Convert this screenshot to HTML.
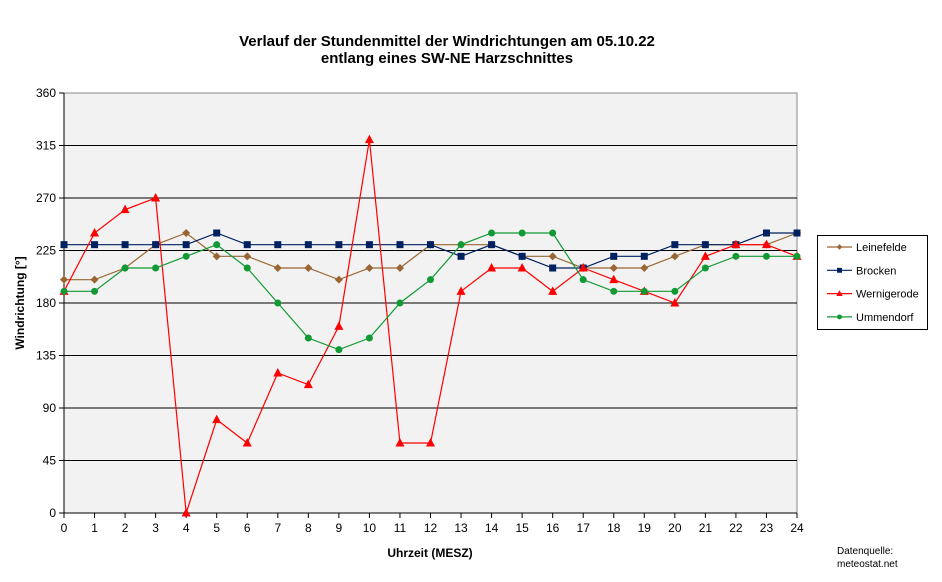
<!DOCTYPE html>
<html><head><meta charset="utf-8"><style>
html,body{margin:0;padding:0;background:#fff;}
svg{display:block;font-family:"Liberation Sans",Arial,sans-serif;}
</style></head><body>
<svg id="c" width="942" height="582" xmlns="http://www.w3.org/2000/svg">
<rect x="0" y="0" width="942" height="582" fill="#fff"/>
<text x="447" y="46" text-anchor="middle" font-size="15" font-weight="bold">Verlauf der Stundenmittel der Windrichtungen am 05.10.22</text>
<text x="447" y="63" text-anchor="middle" font-size="15" font-weight="bold">entlang eines SW-NE Harzschnittes</text>
<rect x="64" y="93" width="733" height="420" fill="#f2f2f2" stroke="#888" stroke-width="1"/>
<g id="grid"></g>
<g id="series"></g>
<text x="430" y="557" text-anchor="middle" font-size="12" font-weight="bold">Uhrzeit (MESZ)</text>
<text x="24" y="303" text-anchor="middle" font-size="12" font-weight="bold" transform="rotate(-90 24 303)">Windrichtung [°]</text>
<text x="837" y="554" font-size="10">Datenquelle:</text>
<text x="837" y="567" font-size="10">meteostat.net</text>
<rect x="817.5" y="235.5" width="110" height="94" fill="#fff" stroke="#000"/>
<g id="legend"></g>
</svg>
<script>
const L=64,R=797,T=93,B=513;
const X=h=>L+(R-L)*h/24, Y=v=>B-(B-T)*v/360;
let g='';
for(let v=0;v<=360;v+=45){const y=Y(v);
 if(v>0&&v<360)g+=`<line x1="${L}" y1="${y}" x2="${R}" y2="${y}" stroke="#000" stroke-width="1"/>`;
 g+=`<line x1="${L-5}" y1="${y}" x2="${L}" y2="${y}" stroke="#000"/>`;
 g+=`<text x="${L-8}" y="${y+4}" text-anchor="end" font-size="12">${v}</text>`;}
for(let h=0;h<=24;h++){const x=X(h);
 g+=`<line x1="${x}" y1="${B}" x2="${x}" y2="${B+5}" stroke="#000"/>`;
 g+=`<text x="${x}" y="${B+19}" text-anchor="middle" font-size="12">${h}</text>`;}
g+=`<line x1="${L}" y1="${T}" x2="${L}" y2="${B}" stroke="#000"/><line x1="${L}" y1="${B}" x2="${R}" y2="${B}" stroke="#000"/>`;
document.getElementById('grid').innerHTML=g;
const S=[
 ['Leinefelde','#996633','d',[200,200,210,230,240,220,220,210,210,200,210,210,230,230,230,220,220,210,210,210,220,230,230,230,240]],
 ['Brocken','#002060','s',[230,230,230,230,230,240,230,230,230,230,230,230,230,220,230,220,210,210,220,220,230,230,230,240,240]],
 ['Wernigerode','#ff0000','t',[190,240,260,270,0,80,60,120,110,160,320,60,60,190,210,210,190,210,200,190,180,220,230,230,220]],
 ['Ummendorf','#119933','c',[190,190,210,210,220,230,210,180,150,140,150,180,200,230,240,240,240,200,190,190,190,210,220,220,220]]];
function mk(t,x,y,c,s){s=s||1;
 if(t=='d')return `<polygon points="${x},${y-4*s} ${x+4*s},${y} ${x},${y+4*s} ${x-4*s},${y}" fill="${c}"/>`;
 if(t=='s')return `<rect x="${x-3.5*s}" y="${y-3.5*s}" width="${7*s}" height="${7*s}" fill="${c}"/>`;
 if(t=='t')return `<polygon points="${x},${y-5*s} ${x+4.5*s},${y+3.5*s} ${x-4.5*s},${y+3.5*s}" fill="${c}"/>`;
 return `<circle cx="${x}" cy="${y}" r="${3.5*s}" fill="${c}"/>`;}
let s='',lg='';
S.forEach((d,i)=>{const p=d[3].map((v,h)=>X(h)+','+Y(v)).join(' ');
 s+=`<polyline points="${p}" fill="none" stroke="${d[1]}" stroke-width="1.2"/>`;
 d[3].forEach((v,h)=>s+=mk(d[2],X(h),Y(v),d[1]));
 const ly=247+i*23.3;
 lg+=`<line x1="827" y1="${ly}" x2="852" y2="${ly}" stroke="${d[1]}" stroke-width="1.2"/>`+mk(d[2],839.5,ly,d[1],0.7);
 lg+=`<text x="856" y="${ly+4}" font-size="11">${d[0]}</text>`;});
document.getElementById('series').innerHTML=s;
document.getElementById('legend').innerHTML=lg;
</script>
</body></html>
